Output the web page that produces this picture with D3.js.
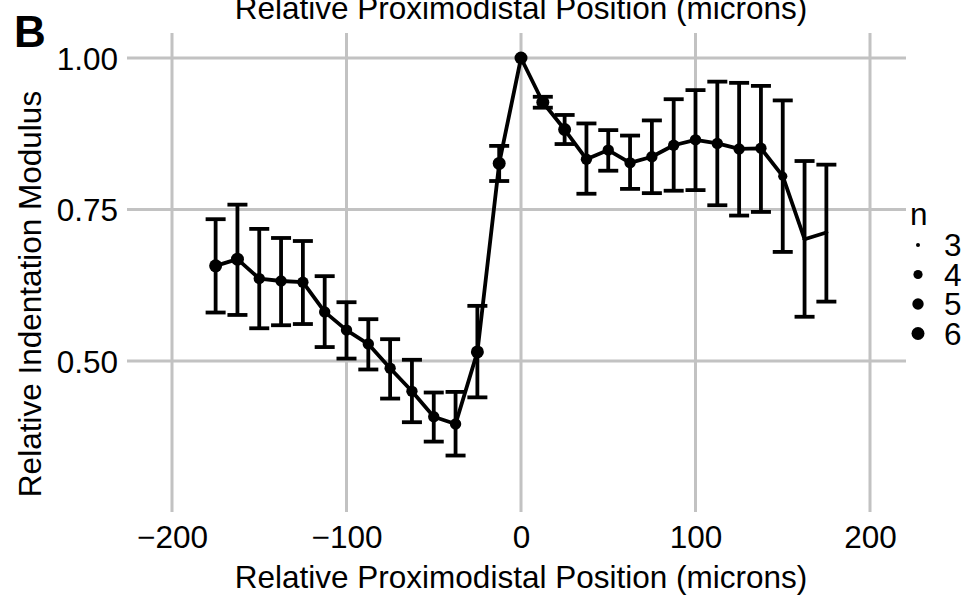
<!DOCTYPE html>
<html>
<head>
<meta charset="utf-8">
<script src="https://cdn.jsdelivr.net/npm/d3@7"></script>
<style>
  html, body { margin: 0; padding: 0; background: #fff; }
  svg text { font-family: "Liberation Sans", Arial, Helvetica, sans-serif; fill: #000; }
</style>
</head>
<body>
<svg id="chart" width="970" height="596"></svg>
<script>
// Position along the proximodistal axis (microns)
const positions = [-175, -162.5, -150, -137.5, -125, -112.5, -100, -87.5, -75, -62.5, -50, -37.5, -25, -12.5,
  0, 12.5, 25, 37.5, 50, 62.5, 75, 87.5, 100, 112.5, 125, 137.5, 150, 162.5, 175];
// Mean relative indentation modulus
const modulus = [0.657, 0.668, 0.636, 0.632, 0.630, 0.581, 0.551, 0.528, 0.488, 0.450, 0.408, 0.396, 0.515, 0.826,
  1.000, 0.927, 0.882, 0.833, 0.848, 0.827, 0.837, 0.856, 0.865, 0.859, 0.850, 0.851, 0.805, 0.701, 0.712];
// Error bar bounds
const lower = [0.580, 0.576, 0.554, 0.559, 0.561, 0.523, 0.504, 0.486, 0.438, 0.399, 0.367, 0.344, 0.440, 0.797,
  1.000, 0.918, 0.858, 0.776, 0.814, 0.784, 0.777, 0.781, 0.782, 0.757, 0.740, 0.746, 0.680, 0.573, 0.598];
const upper = [0.734, 0.758, 0.718, 0.703, 0.698, 0.640, 0.597, 0.569, 0.536, 0.502, 0.448, 0.449, 0.591, 0.855,
  1.000, 0.936, 0.906, 0.892, 0.881, 0.872, 0.897, 0.932, 0.947, 0.961, 0.959, 0.954, 0.930, 0.830, 0.824];
// Number of samples behind each mean
const sampleN = [6, 6, 5, 5, 5, 5, 5, 5, 5, 5, 5, 5, 6, 6,
  6, 6, 6, 5, 5, 5, 5, 5, 5, 5, 5, 5, 4, 3, 3];

const xTicks = [-200, -100, 0, 100, 200];
const yTicks = [0.50, 0.75, 1.00];
const legendN = [3, 4, 5, 6];

const data = positions.map((p, i) => ({ x: p, y: modulus[i], lo: lower[i], hi: upper[i], n: sampleN[i] }));

const svg = d3.select("#chart");
const panel = { left: 127, right: 906, top: 33, bottom: 512 };
const fontSize = 31.5;

const x = d3.scaleLinear().domain([-200, 200]).range([172, 870]);
const y = d3.scaleLinear().domain([0.5, 1.0]).range([361, 58]);
// point size: area-style mapping of n between 3 and 6
const r = n => 2 + 4.5 * Math.sqrt((n - 3) / 3);

const gridColor = "#c2c2c2";

// grid
const grid = svg.append("g");
grid.selectAll("line.gx").data(xTicks).join("line")
  .attr("x1", d => x(d)).attr("x2", d => x(d))
  .attr("y1", panel.top).attr("y2", panel.bottom)
  .attr("stroke", gridColor).attr("stroke-width", 3);
grid.selectAll("line.gy").data(yTicks).join("line")
  .attr("x1", panel.left).attr("x2", panel.right)
  .attr("y1", d => y(d)).attr("y2", d => y(d))
  .attr("stroke", gridColor).attr("stroke-width", 3);

// axes (labels only)
const xAxis = d3.axisBottom(x).tickValues(xTicks).tickSize(0).tickPadding(0);
const gx = svg.append("g").attr("transform", `translate(0,${panel.bottom})`).call(xAxis);
gx.select(".domain").remove();
gx.selectAll("text").attr("font-size", fontSize).attr("dy", null).attr("y", 36)
  .style("font-family", '"Liberation Sans", Arial, sans-serif');

const yAxis = d3.axisLeft(y).tickValues(yTicks).tickFormat(d3.format(".2f")).tickSize(0).tickPadding(0);
const gy = svg.append("g").attr("transform", `translate(118,0)`).call(yAxis);
gy.select(".domain").remove();
gy.selectAll("text").attr("font-size", fontSize).attr("x", 0).attr("dy", "0.35em")
  .style("font-family", '"Liberation Sans", Arial, sans-serif');

// error bars
const eb = svg.append("g").attr("stroke", "#000").attr("stroke-width", 3.8);
const capHalf = 10;
data.forEach(d => {
  if (d.hi - d.lo < 0.002) return;
  eb.append("line").attr("x1", x(d.x)).attr("x2", x(d.x)).attr("y1", y(d.lo)).attr("y2", y(d.hi));
  eb.append("line").attr("x1", x(d.x) - capHalf).attr("x2", x(d.x) + capHalf).attr("y1", y(d.lo)).attr("y2", y(d.lo));
  eb.append("line").attr("x1", x(d.x) - capHalf).attr("x2", x(d.x) + capHalf).attr("y1", y(d.hi)).attr("y2", y(d.hi));
});

// mean line
svg.append("path").datum(data)
  .attr("fill", "none").attr("stroke", "#000").attr("stroke-width", 3.8).attr("stroke-linejoin", "round")
  .attr("d", d3.line().x(d => x(d.x)).y(d => y(d.y)));

// points
svg.append("g").selectAll("circle").data(data).join("circle")
  .attr("cx", d => x(d.x)).attr("cy", d => y(d.y)).attr("r", d => r(d.n)).attr("fill", "#000");

// titles
svg.append("text").attr("x", 521).attr("y", 588).attr("text-anchor", "middle").attr("font-size", fontSize)
  .text("Relative Proximodistal Position (microns)");
svg.append("text").attr("x", 521).attr("y", 19).attr("text-anchor", "middle").attr("font-size", fontSize)
  .text("Relative Proximodistal Position (microns)");
svg.append("text").attr("transform", "translate(41,294) rotate(-90)").attr("text-anchor", "middle").attr("font-size", fontSize)
  .text("Relative Indentation Modulus");
svg.append("text").attr("x", 14).attr("y", 47).attr("font-size", 44).attr("font-weight", "bold").text("B");

// legend
const lg = svg.append("g");
lg.append("text").attr("x", 910).attr("y", 225).attr("font-size", fontSize).text("n");
const lgRows = lg.selectAll("g.row").data(legendN).join("g")
  .attr("transform", (d, i) => `translate(0,${245 + i * 29.5})`);
lgRows.append("circle").attr("cx", 918).attr("cy", 0).attr("r", d => r(d)).attr("fill", "#000");
lgRows.append("text").attr("x", 944).attr("y", 0).attr("dy", "0.35em").attr("font-size", fontSize).text(d => d);
</script>
</body>
</html>
